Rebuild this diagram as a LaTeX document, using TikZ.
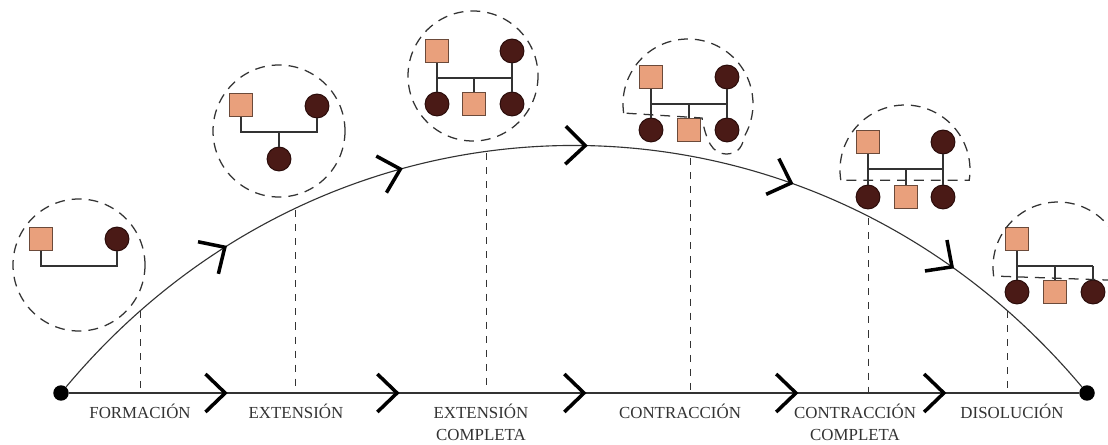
\documentclass[tikz,border=0pt]{standalone}
\usepackage{fontspec}
\setmainfont{Liberation Serif}
\usetikzlibrary{decorations.markings}

\definecolor{malefill}{HTML}{E9A07C}
\definecolor{maleedge}{HTML}{6B4A3A}
\definecolor{femalefill}{HTML}{4A1A16}
\definecolor{femaleedge}{HTML}{2A0C0A}
\definecolor{inkgray}{HTML}{333333}

\newcommand{\lifechevron}{\draw[chev] (-14pt,13.5pt) -- (0pt,0pt) -- (-14pt,-13.5pt);}

\tikzset{
  male/.style={rectangle, draw=maleedge, fill=malefill, line width=0.7pt, minimum size=17pt, inner sep=0pt},
  female/.style={circle, draw=femaleedge, fill=femalefill, line width=0.7pt, minimum size=17pt, inner sep=0pt},
  famline/.style={draw=inkgray, line width=0.8pt},
  household/.style={draw=inkgray, line width=0.9pt, dash pattern=on 7pt off 5pt},
  stage/.style={draw=inkgray, line width=0.6pt, dash pattern=on 5pt off 5pt},
  chev/.style={draw=black, line width=2.5pt},
  endpoint/.style={circle, fill=black, minimum size=11pt, inner sep=0pt},
  phase/.style={font=\fontsize{12}{15.6}\selectfont, text=inkgray, align=center, anchor=north, inner sep=0pt},
  lifemarks/.style n args={5}{postaction={decorate}, decoration={markings,
    mark=at position #1 with {\lifechevron},
    mark=at position #2 with {\lifechevron},
    mark=at position #3 with {\lifechevron},
    mark=at position #4 with {\lifechevron},
    mark=at position #5 with {\lifechevron}}}
}

\begin{document}
\begin{tikzpicture}[x=0.025cm, y=-0.025cm]
\useasboundingbox (0,0) rectangle (1108,445);

% stages
\coordinate (s1) at (140,311);
\coordinate (s2) at (295,210);
\coordinate (s3) at (486,153);
\coordinate (s4) at (690,158);
\coordinate (s5) at (868,218);
\coordinate (s6) at (1007,311);

% time line and life curve
\node[endpoint] (start) at (61,393) {};
\node[endpoint] (end) at (1087,393) {};
\foreach \s in {s1,s2,s3,s4,s5,s6}
  \draw[stage] (\s) -- (\s |- start);
\draw[draw=inkgray, line width=0.8pt, lifemarks={0.1546}{0.3248}{0.5099}{0.7197}{0.8662}] (start) -- (end);
\draw[draw=inkgray, line width=0.8pt, lifemarks={0.1827}{0.3487}{0.5097}{0.6906}{0.8473}]
  (start) .. controls (336,65) and (811,65) .. (end);

\node[phase] (p1) at (140,404) {FORMACIÓN};
\node[phase] (p2) at (296,404) {EXTENSIÓN};
\node[phase] (p3) at (481,404) {EXTENSIÓN\\COMPLETA};
\node[phase] (p4) at (680,404) {CONTRACCIÓN};
\node[phase] (p5) at (855,404) {CONTRACCIÓN\\COMPLETA};
\node[phase] (p6) at (1012,404) {DISOLUCIÓN};

% formacion
\node[male] (a1) at (41,239) {};
\node[female] (a2) at (117,239) {};
\coordinate (a0) at (79,266);
\draw[famline] (a1) |- (a0) -| (a2);
\draw[household] (79,265) circle[radius=66];

% extension
\node[male] (b1) at (241,105) {};
\node[female] (b2) at (317,106) {};
\node[female] (b3) at (279,159) {};
\coordinate (b0) at (279,132);
\draw[famline] (b1) |- (b0) -| (b2);
\draw[famline] (b0) -- (b3);
\draw[household] (279,131) circle[radius=66];

% extension completa
\node[male] (c1) at (437,51) {};
\node[female] (c2) at (512,51) {};
\node[female] (c3) at (437,104) {};
\node[male] (c4) at (474,104) {};
\node[female] (c5) at (512,104) {};
\coordinate (c0) at (474,78);
\draw[famline] (c1) -- (c3) (c2) -- (c5) (c1 |- c0) -- (c2 |- c0) (c0) -- (c4);
\draw[household] (473,76) circle[radius=65];

% contraccion
\node[male] (d1) at (651,77) {};
\node[female] (d2) at (727,77) {};
\node[female] (d3) at (651,130) {};
\node[male] (d4) at (689,130) {};
\node[female] (d5) at (727,130) {};
\coordinate (d0) at (689,104);
\draw[famline] (d1) -- (d3) (d2) -- (d5) (d1 |- d0) -- (d2 |- d0) (d0) -- (d4);
\draw[household] (688,104) ++(172:65) arc[start angle=172, end angle=390, radius=65]
  .. controls (742,150) and (735,154) .. (726,154)
  .. controls (712,154) and (706,140) .. (702,118) -- cycle;

% contraccion completa
\node[male] (e1) at (868,142) {};
\node[female] (e2) at (943,142) {};
\node[female] (e3) at (868,197) {};
\node[male] (e4) at (906,197) {};
\node[female] (e5) at (943,197) {};
\coordinate (e0) at (906,169);
\draw[famline] (e1) -- (e3) (e2) -- (e5) (e1 |- e0) -- (e2 |- e0) (e0) -- (e4);
\draw[household] (905,170) ++(171:65) arc[start angle=171, end angle=369, radius=65] -- cycle;

% disolucion
\node[male] (g1) at (1017,239) {};
\node[female] (g2) at (1017,292) {};
\node[male] (g3) at (1055,292) {};
\node[female] (g4) at (1093,292) {};
\coordinate (g0) at (1055,266);
\draw[famline] (g1) -- (g2) (g1 |- g0) -- (g4 |- g0) (g0) -- (g3) (g4 |- g0) -- (g4);
\draw[household] (1058,267) ++(172:65) arc[start angle=172, end angle=372, radius=65] -- cycle;
\end{tikzpicture}
\end{document}
